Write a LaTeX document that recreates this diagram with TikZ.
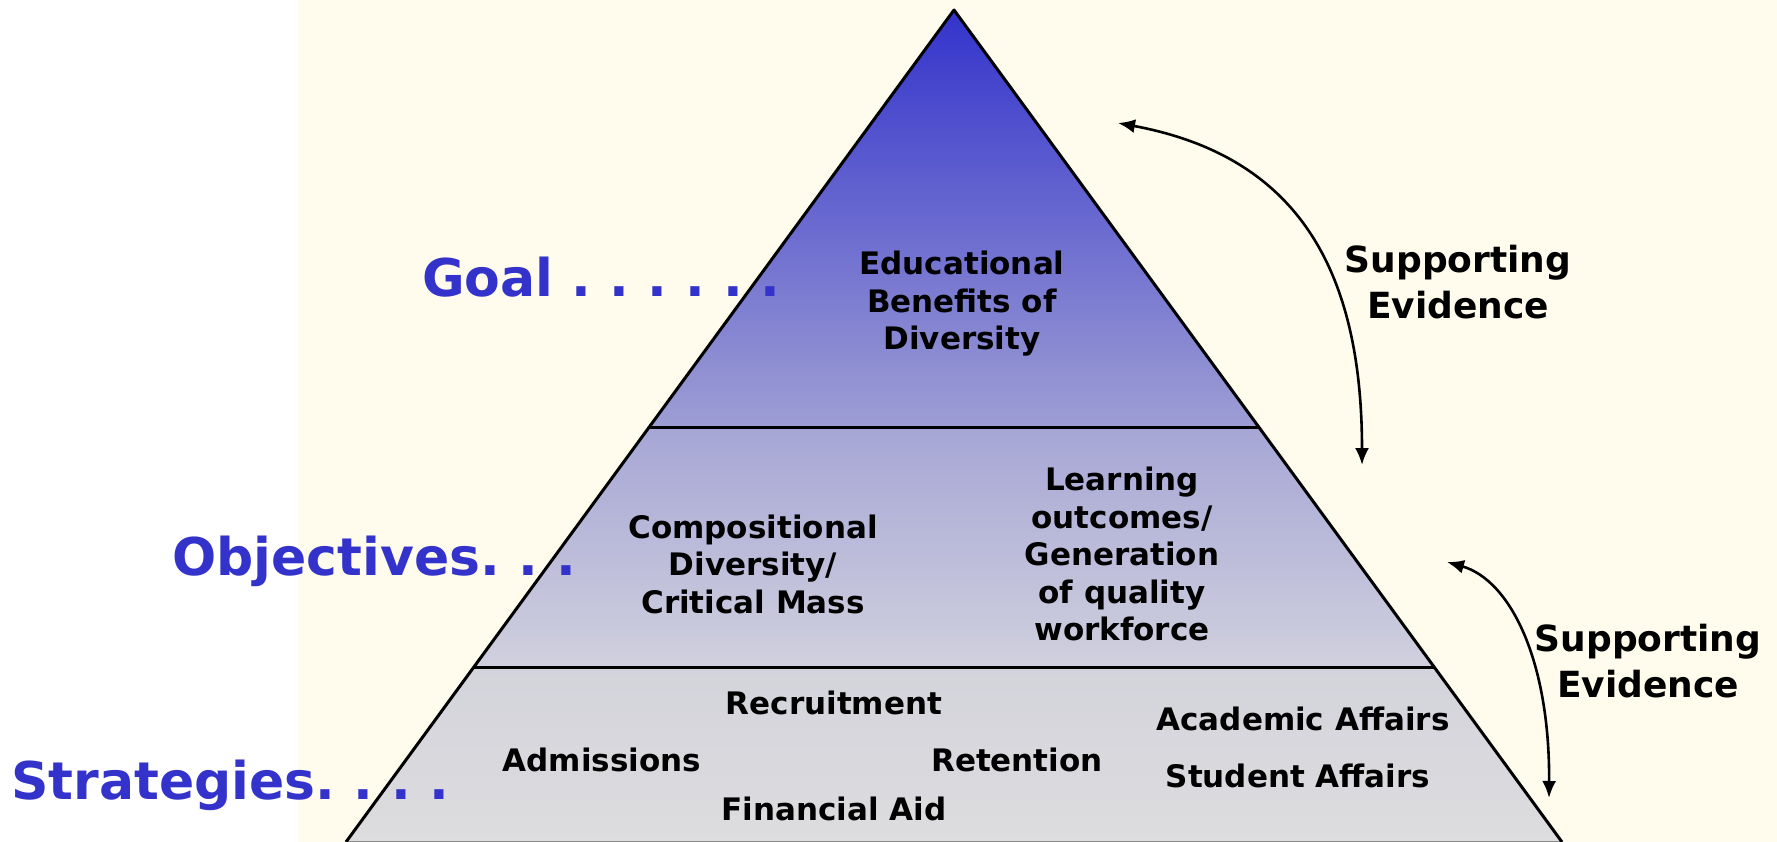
\documentclass[tikz,border=0pt]{standalone}
\usepackage{fontspec}
\setmainfont{DejaVu Sans}
\usetikzlibrary{arrows.meta,calc}
\definecolor{cream}{RGB}{255,252,238}
\definecolor{lblue}{RGB}{51,51,204}
\definecolor{tatop}{RGB}{51,51,204}
\definecolor{tabot}{RGB}{158,158,212}
\definecolor{tbtop}{RGB}{166,166,214}
\definecolor{tbbot}{RGB}{208,208,222}
\definecolor{tctop}{RGB}{211,211,219}
\definecolor{tcbot}{RGB}{221,221,223}
\tikzset{
  lbl/.style={text=lblue, font=\fontsize{52}{60}\selectfont\bfseries\frenchspacing, inner sep=0pt, anchor=base west},
  ptxt/.style={font=\fontsize{31}{37.5}\selectfont\bfseries, inner sep=0pt, align=center},
  sev/.style={font=\fontsize{36}{46}\selectfont\bfseries, inner sep=0pt, align=center},
  edge/.style={line width=3pt, line join=round},
  evarrow/.style={line width=2.6pt, {Latex[length=17pt,width=14pt]}-{Latex[length=17pt,width=14pt]}}
}
\begin{document}
\begin{tikzpicture}[x=1pt,y=-1pt]
\useasboundingbox (0,0) rectangle (1777,842);
\fill[white] (0,0) rectangle (298,842);
\fill[cream] (298,0) rectangle (1777,842);
% pyramid corners
\coordinate (apex) at (954,10);
\coordinate (bl) at (346,842);
\coordinate (br) at (1562,842);
\coordinate (l1) at ($(apex)!0.5012!(bl)$);
\coordinate (r1) at ($(apex)!0.5012!(br)$);
\coordinate (l2) at ($(apex)!0.7897!(bl)$);
\coordinate (r2) at ($(apex)!0.7897!(br)$);
% fills
\shade[top color=tatop, bottom color=tabot] (apex) -- (r1) -- (l1) -- cycle;
\shade[top color=tbtop, bottom color=tbbot] (l1) -- (r1) -- (r2) -- (l2) -- cycle;
\shade[top color=tctop, bottom color=tcbot] (l2) -- (r2) -- (br) -- (bl) -- cycle;
% outlines
\draw[black!45, line width=1.5pt] (bl) -- (br);
\draw[edge] (bl) -- (apex) -- (br);
\draw[edge] (l1) -- (r1);
\draw[edge] (l2) -- (r2);
% pyramid texts
\node[ptxt] (goaltxt) at (962,304) {Educational\\Benefits of\\Diversity};
\node[ptxt] (comp) at (753,564) {Compositional\\Diversity/\\Critical Mass};
\node[ptxt] (learn) at (1122,554) {Learning\\outcomes/\\Generation\\of quality\\workforce};
\node[ptxt, anchor=base] (recr) at (834,714) {Recruitment};
\node[ptxt, anchor=base] (adm) at (602,771) {Admissions};
\node[ptxt, anchor=base] (ret) at (1017,771) {Retention};
\node[ptxt, anchor=base] (fin) at (834,820) {Financial Aid};
\node[ptxt, anchor=base] (acad) at (1303,730) {Academic Affairs};
\node[ptxt, anchor=base] (stud) at (1298,787) {Student Affairs};
% supporting evidence
\node[sev] (se1) at (1458,282) {Supporting\\Evidence};
\node[sev] (se2) at (1648,661) {Supporting\\Evidence};
\coordinate (a1top) at (1118,123);
\coordinate (a1bot) at (1362,465);
\coordinate (a2top) at (1447,562);
\coordinate (a2bot) at (1549,798);
\draw[evarrow] (a1top) .. controls (1290,155) and (1362,260) .. (a1bot);
\draw[evarrow] (a2top) .. controls (1510,580) and (1550,660) .. (a2bot);
% left labels
\node[lbl] (goal) at (422,297) {Goal . . . . . .};
\node[lbl] (obj) at (172,575) {Objectives. . .};
\node[lbl] (strat) at (11,799) {Strategies. . . .};
\end{tikzpicture}
\end{document}
